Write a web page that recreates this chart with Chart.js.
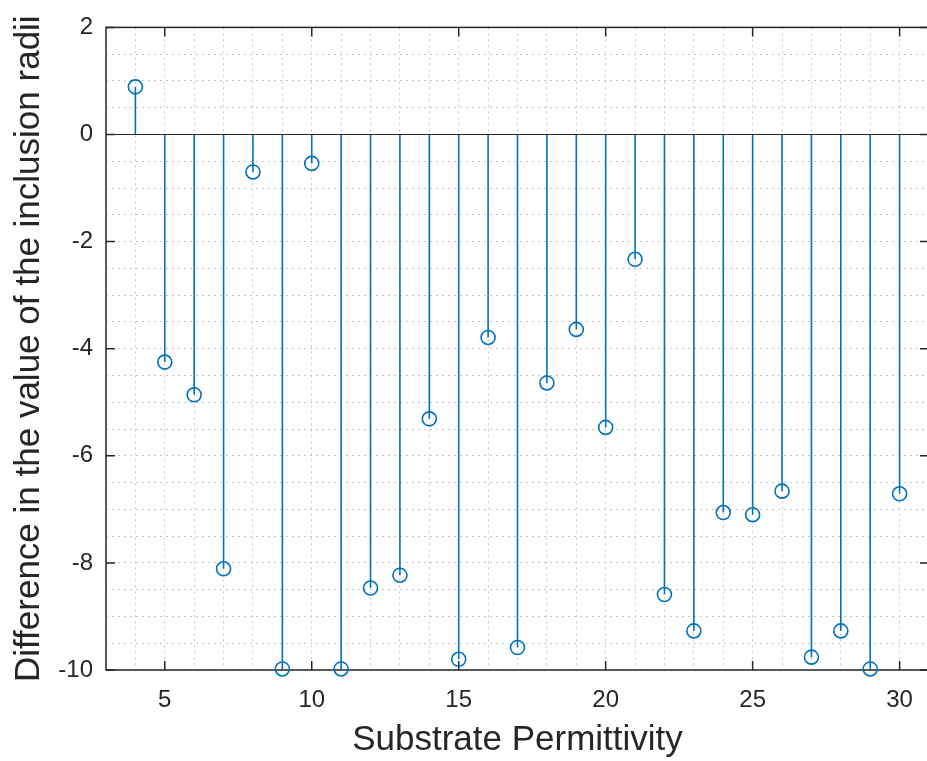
<!DOCTYPE html>
<html>
<head>
<meta charset="utf-8">
<script src="https://cdn.jsdelivr.net/npm/chart.js@4/dist/chart.umd.min.js"></script>
<style>
  html, body { margin: 0; padding: 0; background: #fff; overflow: hidden; }
  #wrap { width: 945px; height: 761px; }
</style>
</head>
<body>
<div id="wrap"><canvas id="stem" width="945" height="761"></canvas></div>
<script>
// substrate permittivity values (x) and radius difference (y)
const permittivity = [4, 5, 6, 7, 8, 9, 10, 11, 12, 13, 14, 15, 16, 17, 18, 19, 20, 21, 22, 23, 24, 25, 26, 27, 28, 29, 30];
const radiusDiff = [0.89, -4.25, -4.86, -8.11, -0.70, -9.98, -0.54, -9.98, -8.47, -8.23, -5.31, -9.80, -3.79, -9.58,
  -4.64, -3.64, -5.47, -2.33, -8.59, -9.27, -7.06, -7.10, -6.66, -9.76, -9.27, -9.98, -6.71];

// axis limits and labelled ticks
const xLimits = [3, 31];
const yLimits = [-10, 2];
const xTickLabels = [5, 10, 15, 20, 25, 30];
const yTickLabels = [-10, -8, -6, -4, -2, 0, 2];

const blue = '#0072BD';
const axisColor = '#262626';
const gridColor = '#c6c6c6';
const font = 'Liberation Sans, Arial, Helvetica, sans-serif';

(function() {
  //stems: each goes from the baseline to the value, broken by nulls
  let stemPoints = [];
  permittivity.forEach((x, i) => {
    stemPoints.push({x: x, y: 0});
    stemPoints.push({x: x, y: radiusDiff[i]});
    stemPoints.push({x: x, y: null});
  });
  const markerPoints = permittivity.map((x, i) => ({x: x, y: radiusDiff[i]}));
  const basePoints = [{x: xLimits[0], y: 0}, {x: xLimits[1], y: 0}];

  //matlab style box with inward tick marks
  const boxPlugin = {
    id: 'box',
    beforeDatasetsDraw(chart) {
      const {ctx, chartArea: a, scales: {x, y}} = chart;
      ctx.save();
      ctx.strokeStyle = axisColor;
      ctx.lineWidth = 1.5;
      ctx.strokeRect(a.left, a.top, a.right - a.left, a.bottom - a.top);
      ctx.beginPath();
      xTickLabels.forEach(v => {
        const px = x.getPixelForValue(v);
        ctx.moveTo(px, a.bottom); ctx.lineTo(px, a.bottom - 9);
        ctx.moveTo(px, a.top); ctx.lineTo(px, a.top + 9);
      });
      yTickLabels.forEach(v => {
        const py = y.getPixelForValue(v);
        ctx.moveTo(a.left, py); ctx.lineTo(a.left + 9, py);
        ctx.moveTo(a.right, py); ctx.lineTo(a.right - 9, py);
      });
      ctx.stroke();
      ctx.restore();
    }
  };

  // note: the x ticks padding (16) also ends up as right margin of the chart area,
  // so the canvas is a bit wider than the window and the right box edge falls just outside
  new Chart(document.getElementById('stem'), {
    type: 'scatter',
    data: {
      datasets: [
        {
          label: 'baseline',
          data: basePoints,
          showLine: true,
          borderColor: axisColor,
          borderWidth: 1,
          pointRadius: 0
        },
        {
          label: 'stems',
          data: stemPoints,
          showLine: true,
          spanGaps: false,
          borderColor: blue,
          borderWidth: 1.6,
          pointRadius: 0
        },
        {
          label: 'markers',
          data: markerPoints,
          showLine: false,
          pointStyle: 'circle',
          pointRadius: 7,
          borderWidth: 1.6,
          borderColor: blue,
          backgroundColor: 'rgba(0,0,0,0)',
          clip: false
        }
      ]
    },
    options: {
      responsive: false,
      animation: false,
      layout: {
        padding: {left: 0, top: 25, right: 0, bottom: 0}
      },
      plugins: {
        legend: {display: false},
        tooltip: {enabled: false}
      },
      scales: {
        x: {
          type: 'linear',
          min: xLimits[0],
          max: xLimits[1],
          afterFit: (scale) => { scale.height = 91; },
          border: {display: false, dash: [2, 4]},
          grid: {color: gridColor, lineWidth: 1, drawTicks: false},
          ticks: {
            stepSize: 1,
            autoSkip: false,
            maxRotation: 0,
            maxTicksLimit: 100,
            padding: 16,
            color: axisColor,
            font: {family: font, size: 24},
            callback: (v) => xTickLabels.includes(v) ? String(v) : ''
          },
          title: {
            display: true,
            text: 'Substrate Permittivity',
            color: axisColor,
            font: {family: font, size: 35},
            padding: {top: 0, bottom: 0}
          }
        },
        y: {
          min: yLimits[0],
          max: yLimits[1],
          afterFit: (scale) => { scale.width = 106; },
          border: {display: false, dash: [2, 4]},
          grid: {color: gridColor, lineWidth: 1, drawTicks: false},
          ticks: {
            stepSize: 0.5,
            autoSkip: false,
            maxTicksLimit: 100,
            padding: 13,
            color: axisColor,
            font: {family: font, size: 24},
            callback: (v) => yTickLabels.includes(v) ? String(v) : ''
          },
          title: {
            display: true,
            text: 'Difference in the value of the inclusion radii',
            color: axisColor,
            font: {family: font, size: 35},
            padding: {top: 8, bottom: 0}
          }
        }
      }
    },
    plugins: [boxPlugin]
  });
})();
</script>
</body>
</html>
